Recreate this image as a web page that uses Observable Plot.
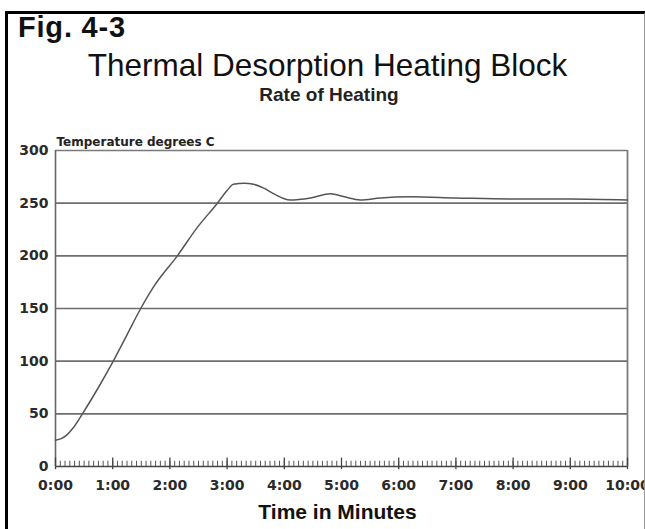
<!DOCTYPE html>
<html>
<head>
<meta charset="utf-8">
<script src="https://cdn.jsdelivr.net/npm/d3@7"></script>
<script src="https://cdn.jsdelivr.net/npm/@observablehq/plot@0.6"></script>
<style>
  html, body { margin: 0; padding: 0; background: #fff; overflow: hidden; }
  #page { position: relative; width: 645px; height: 529px; }
  #frame { position: absolute; left: 5px; top: 11px; width: 636px; height: 600px;
           border-left: 3px solid #000; border-top: 3px solid #000; border-right: 2px solid #9a9a9a;
           pointer-events: none; }
  #header { position: relative; height: 130px; }
  .t { position: absolute; white-space: nowrap; line-height: 1; color: #111; font-family: "Liberation Sans", Arial, sans-serif; }
  #fig { left: 18px; top: 13px; font-size: 29px; font-weight: bold; letter-spacing: 0.8px; }
  #title { left: 0; width: 655px; text-align: center; top: 50px; font-size: 31.5px; }
  #subtitle { left: 0; width: 658px; text-align: center; top: 85px; font-size: 19px; font-weight: bold; color: #222; }
  #chart svg { display: block; }
</style>
</head>
<body>
<div id="page">
  <div id="header">
    <div class="t" id="fig">Fig. 4-3</div>
    <div class="t" id="title">Thermal Desorption Heating Block</div>
    <div class="t" id="subtitle">Rate of Heating</div>
  </div>
  <div id="chart"></div>
  <div id="frame"></div>
</div>
<script>
// Time in minutes and temperature in degrees C
const minutes = [0, 0.1, 0.2, 0.3, 0.47, 0.75, 1.01, 1.25, 1.49, 1.72, 2.13, 2.48, 2.83, 3.0, 3.11, 3.3, 3.46, 3.65, 3.81, 4.1, 4.46, 4.81, 5.05, 5.33, 5.68, 6.2, 7.0, 8.0, 9.0, 10.0];
const temperature = [25, 26.5, 30, 36, 50, 75, 100, 125, 150, 171, 200, 227, 250, 262, 268, 269, 268, 264, 259, 253, 255, 259, 256, 253, 255, 256, 255, 254, 254, 253];

const xTickValues = [0, 1, 2, 3, 4, 5, 6, 7, 8, 9, 10];
const xTickLabels = ["0:00", "1:00", "2:00", "3:00", "4:00", "5:00", "6:00", "7:00", "8:00", "9:00", "10:00"];
const yTickValues = [0, 50, 100, 150, 200, 250, 300];
const gridValues = [50, 100, 150, 200, 250];
const minorTicks = d3.range(0, 10 + 1e-9, 1 / 12); // every 5 seconds

const yLabel = "Temperature degrees C";
const xLabel = "Time in Minutes";

const data = minutes.map((t, i) => ({t, v: temperature[i]}));

const chart = Plot.plot({
  width: 645,
  height: 399,
  marginLeft: 55,
  marginRight: 18,
  marginTop: 20,
  marginBottom: 63,
  style: {fontFamily: "DejaVu Sans", fontWeight: "bold", fontSize: "14px", color: "#2a2a2a", background: "transparent"},
  x: {domain: [0, 10], label: null},
  y: {domain: [0, 300], label: null},
  marks: [
    Plot.ruleY(gridValues, {stroke: "#6e6e6e", strokeWidth: 1.6}),
    Plot.ruleY([300], {stroke: "#7a7a7a", strokeWidth: 1.4}),
    Plot.ruleX([10], {stroke: "#7a7a7a", strokeWidth: 1.8}),
    Plot.ruleX([0], {stroke: "#666", strokeWidth: 1.6}),
    Plot.ruleY([0], {stroke: "#444", strokeWidth: 1.4}),
    Plot.ruleX(minorTicks, {y1: 0, y2: 5, stroke: "#555", strokeWidth: 1}),
    Plot.ruleX(xTickValues, {y1: -3, y2: 8, stroke: "#444", strokeWidth: 1.3}),
    Plot.line(data, {x: "t", y: "v", curve: "monotone-x", stroke: "#555", strokeWidth: 1.5}),
    Plot.axisY({ticks: yTickValues, tickSize: 0, tickPadding: 7, label: null}),
    Plot.axisX({ticks: xTickValues, tickFormat: (d, i) => xTickLabels[i], tickSize: 0, tickPadding: 14, label: null}),
    Plot.text([yLabel], {frameAnchor: "top-left", text: d => d, lineAnchor: "bottom", dy: -5, dx: 1,
      fontFamily: "DejaVu Sans", fontWeight: "bold", fontSize: 12, fill: "#222"}),
    Plot.text([xLabel], {frameAnchor: "bottom", text: d => d, lineAnchor: "top", dy: 38, dx: -4,
      fontFamily: "Liberation Sans", fontWeight: "bold", fontSize: 21, fill: "#111"})
  ]
});
document.getElementById("chart").appendChild(chart);
</script>
</body>
</html>
